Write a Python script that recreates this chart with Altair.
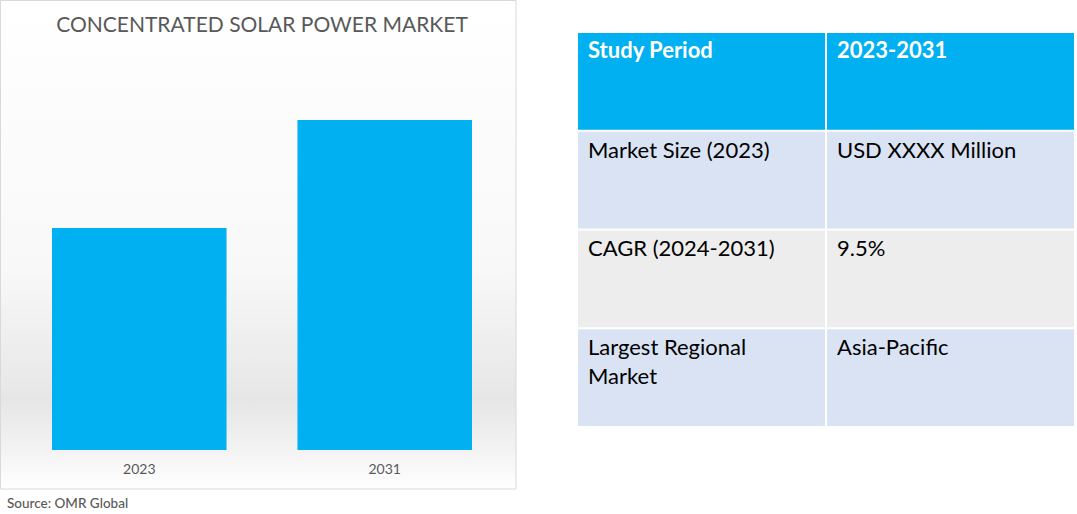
import altair as alt
import pandas as pd

# ---- data ----
years = ["2023", "2031"]
market_values = [100.0, 148.6]  # relative bar heights

table_rows = ["Study Period", "Market Size (2023)", "CAGR (2024-2031)", "Largest Regional\nMarket"]
table_values = ["2023-2031", "USD XXXX Million", "9.5%", "Asia-Pacific"]
row_fills = ["#00B0F0", "#DAE3F3", "#EDEDED", "#DAE3F3"]

title_text = "CONCENTRATED SOLAR POWER MARKET"
source_text = "Source: OMR Global"

FONT = "Lato"

bars_df = pd.DataFrame({"year": years, "value": market_values})

cells = []
for i, (lab, val, fill) in enumerate(zip(table_rows, table_values, row_fills)):
    for c, txt in (("c1", lab), ("c2", val)):
        cells.append({"row": f"r{i}", "col": c, "text": txt, "fill": fill,
                      "header": i == 0})
cells_df = pd.DataFrame(cells)

# ---- left panel background ----
panel = alt.Chart(pd.DataFrame({"a": [0]})).mark_rect(
    stroke="#D9D9D9", strokeWidth=1,
    color=alt.LinearGradient(
        gradient="linear", x1=0, y1=0, x2=0, y2=1,
        stops=[alt.GradientStop(color="#FFFFFF", offset=0),
               alt.GradientStop(color="#F8F8F8", offset=0.55),
               alt.GradientStop(color="#E6E6E6", offset=0.82),
               alt.GradientStop(color="#F3F3F3", offset=0.92),
               alt.GradientStop(color="#FFFFFF", offset=1)])
).encode(x=alt.value(0.5), x2=alt.value(516), y=alt.value(0.5), y2=alt.value(489))

xs = alt.Scale(domain=years, range=[52, 472], paddingInner=0.289, paddingOuter=0)
ys = alt.Scale(domain=[0, 148.6], range=[450, 120], nice=False, zero=True)

bars = alt.Chart(bars_df).mark_bar(color="#00B0F0").encode(
    x=alt.X("year:N", scale=xs, axis=None),
    y=alt.Y("value:Q", scale=ys, axis=None),
)
year_labels = alt.Chart(bars_df).mark_text(
    font=FONT, fontSize=14, color="#595959", baseline="middle"
).encode(
    x=alt.X("year:N", scale=xs, axis=None),
    y=alt.value(470),
    text="year:N",
)
bar_layer = alt.layer(bars, year_labels)

title = alt.Chart(pd.DataFrame({"t": [title_text]})).mark_text(
    font=FONT, fontSize=21, color="#595959", baseline="middle", align="center"
).encode(x=alt.value(262), y=alt.value(26), text="t:N")

source = alt.Chart(pd.DataFrame({"t": [source_text]})).mark_text(
    font=FONT, fontSize=13.5, fontWeight=500, color="#595959", baseline="middle", align="left"
).encode(x=alt.value(7), y=alt.value(504), text="t:N")

# ---- table ----
cx = alt.Scale(domain=["c1", "c2"], range=[578, 1074], paddingInner=0.008, paddingOuter=0)
cy = alt.Scale(domain=["r0", "r1", "r2", "r3"], range=[33, 426], paddingInner=0.02, paddingOuter=0)

cell_rects = alt.Chart(cells_df).mark_rect().encode(
    x=alt.X("col:N", scale=cx, axis=None),
    y=alt.Y("row:N", scale=cy, axis=None),
    color=alt.Color("fill:N", scale=None, legend=None),
)
body_text = alt.Chart(cells_df).transform_filter("!datum.header").mark_text(
    font=FONT, fontSize=22, color="#000000", align="left", baseline="top",
    dx=10, dy=9, lineBreak="\n", lineHeight=29
).encode(
    x=alt.X("col:N", scale=cx, axis=None, bandPosition=0),
    y=alt.Y("row:N", scale=cy, axis=None, bandPosition=0),
    text="text:N",
)
head_text = alt.Chart(cells_df).transform_filter("datum.header").mark_text(
    font=FONT, fontSize=22, fontWeight="bold", color="#FFFFFF", align="left",
    baseline="top", dx=10, dy=8
).encode(
    x=alt.X("col:N", scale=cx, axis=None, bandPosition=0),
    y=alt.Y("row:N", scale=cy, axis=None, bandPosition=0),
    text="text:N",
)
table = alt.layer(cell_rects, body_text, head_text)

chart = alt.layer(panel, bar_layer, title, source, table).resolve_scale(
    x="independent", y="independent", color="independent"
).properties(
    width=1077, height=514, padding=0, autosize=alt.AutoSizeParams(type="none"),
    background="#FFFFFF"
).configure_view(stroke=None)

chart.save("out.html", embed_options={"renderer": "svg", "actions": False})
